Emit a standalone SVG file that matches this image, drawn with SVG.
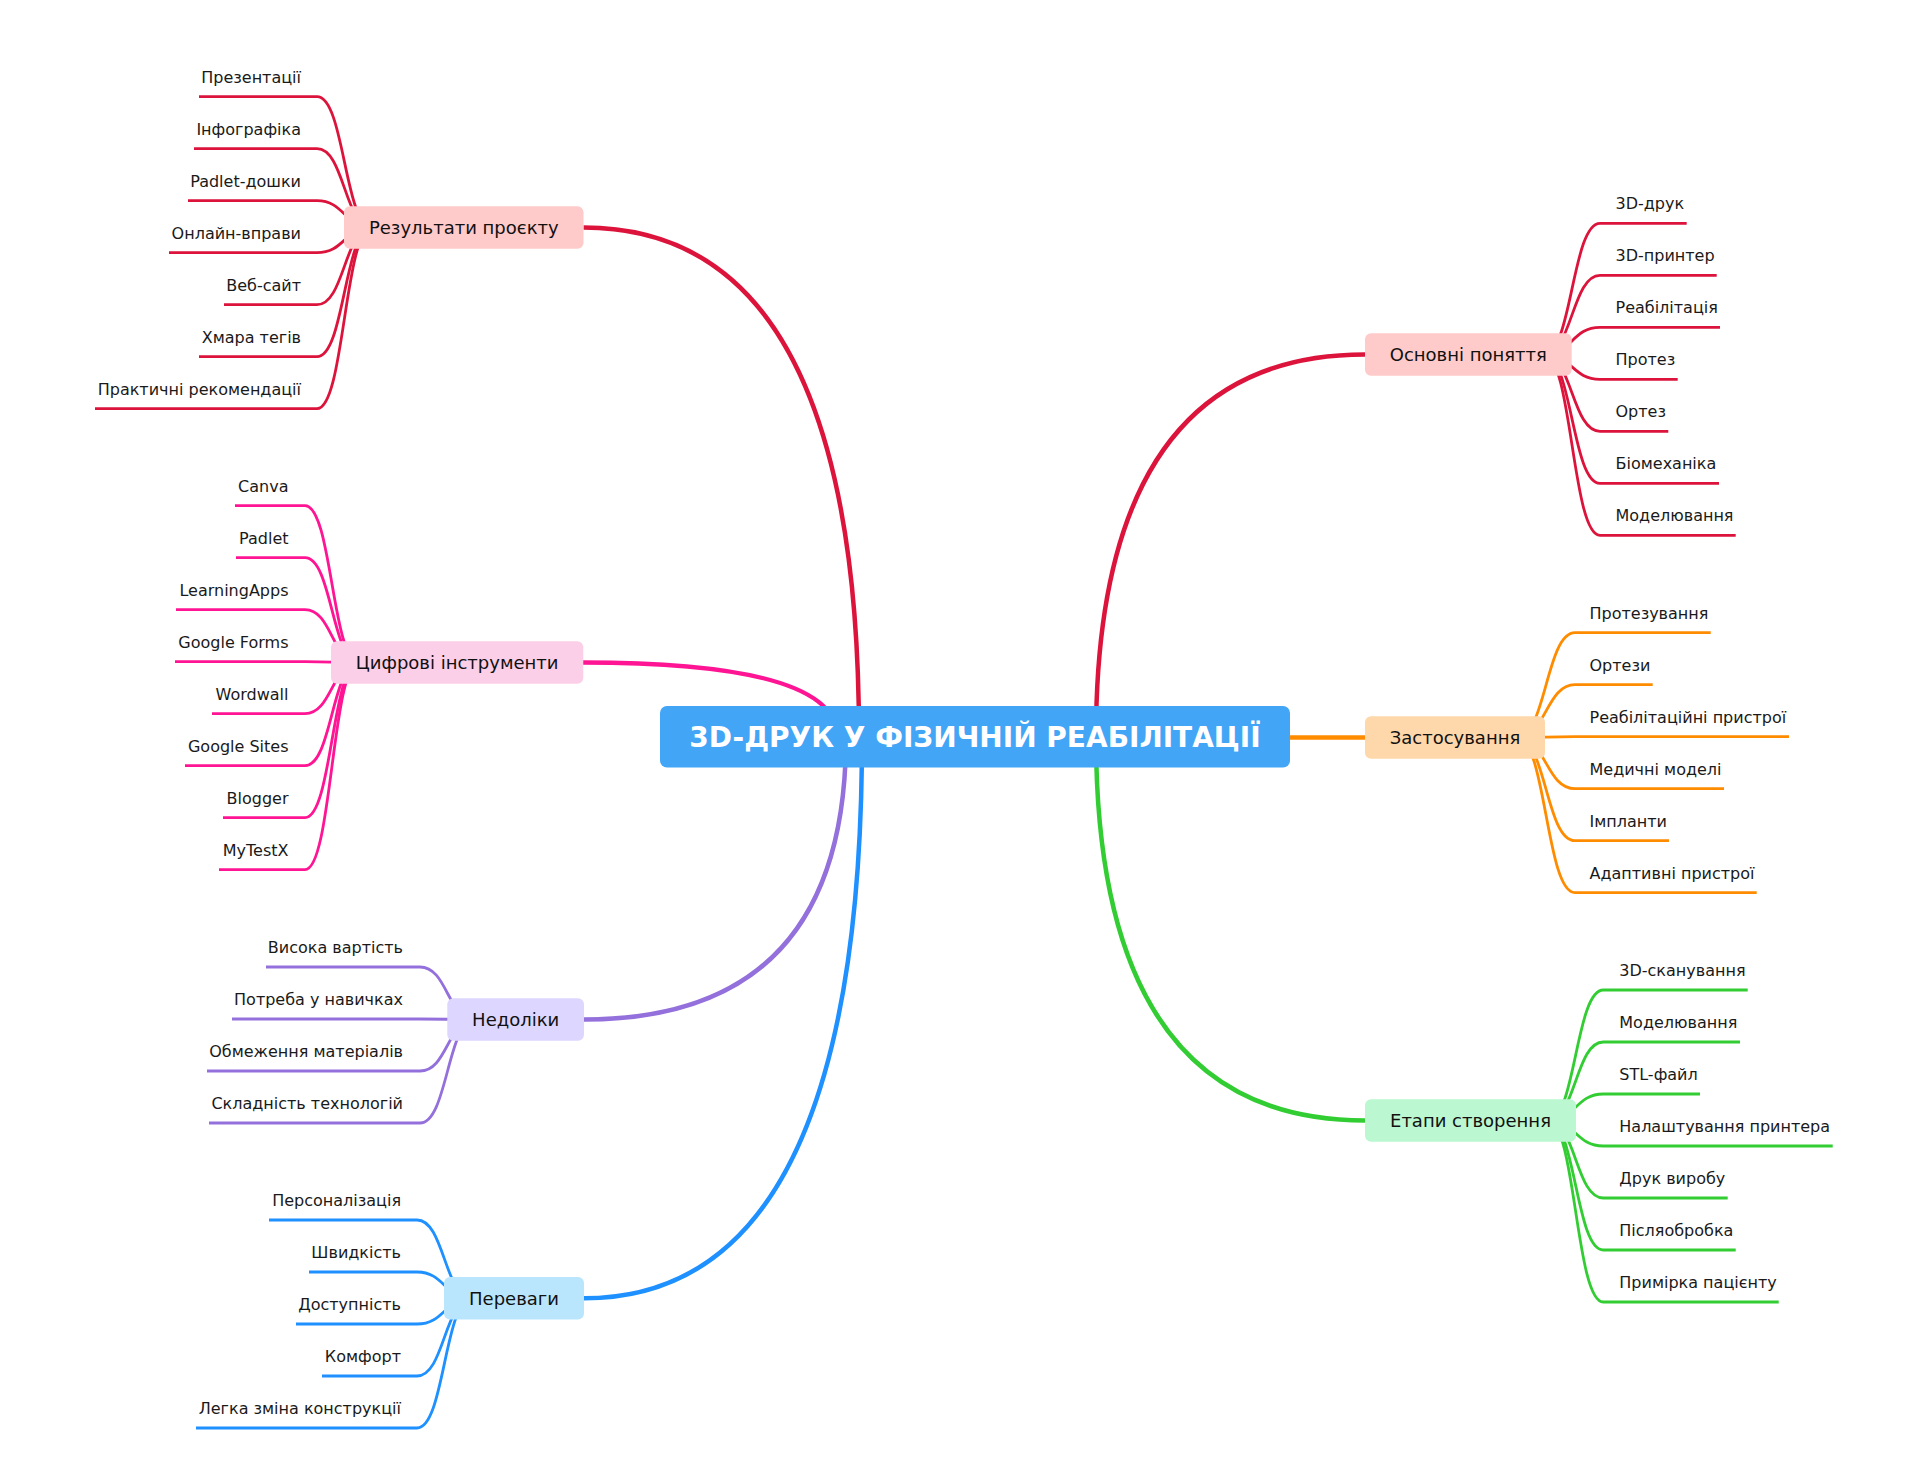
<svg xmlns="http://www.w3.org/2000/svg" width="1928" height="1473" viewBox="0 0 1928 1473">
<style>
.leaf{font-family:"DejaVu Sans",sans-serif;font-size:16px;fill:#1a1a1a}
.lt{text-anchor:end}
.nt{font-family:"DejaVu Sans",sans-serif;font-size:18px;fill:#111;text-anchor:middle}
.title{font-family:"DejaVu Sans",sans-serif;font-size:28px;font-weight:bold;fill:#fff;text-anchor:middle}
.e{fill:none;stroke-width:2.8}
.m{fill:none;stroke-width:4.5}
.red{stroke:#DC143C}.pink{stroke:#FF1493}.purple{stroke:#9370DB}.blue{stroke:#1E90FF}.orange{stroke:#FF8C00}.green{stroke:#32CD32}
</style>
<rect width="1928" height="1473" fill="#fff"/>
<g id="connectors">
<path class="m red" d="M583.5 227.5 Q859 227.5 859 737"/>
<path class="m pink" d="M583 662.5 Q837.5 662.5 837.5 737"/>
<path class="m purple" d="M584 1019.5 Q846 1019.5 846 737"/>
<path class="m blue" d="M584 1298.3 Q862 1298.3 862 737"/>
<path class="m red" d="M1365 354.5 Q1096 354.5 1096 737"/>
<path class="m orange" d="M1290 737.5 H1365"/>
<path class="m green" d="M1365 1120.5 Q1096 1120.5 1096 737"/>
<g>
<path class="e red" d="M199 96.7 H317 C344.5 96.7 344.5 227.5 372 227.5"/>
<path class="e red" d="M194 148.7 H317 C344.5 148.7 344.5 227.5 372 227.5"/>
<path class="e red" d="M188 200.7 H317 C344.5 200.7 344.5 227.5 372 227.5"/>
<path class="e red" d="M169 252.7 H317 C344.5 252.7 344.5 227.5 372 227.5"/>
<path class="e red" d="M224 304.7 H317 C344.5 304.7 344.5 227.5 372 227.5"/>
<path class="e red" d="M199 356.7 H317 C344.5 356.7 344.5 227.5 372 227.5"/>
<path class="e red" d="M95 408.7 H317 C344.5 408.7 344.5 227.5 372 227.5"/>
</g>
<g>
<path class="e pink" d="M235 505.7 H305 C332 505.7 332 662.5 359 662.5"/>
<path class="e pink" d="M236 557.7 H305 C332 557.7 332 662.5 359 662.5"/>
<path class="e pink" d="M176 609.7 H305 C332 609.7 332 662.5 359 662.5"/>
<path class="e pink" d="M175 661.7 H305 C332 661.7 332 662.5 359 662.5"/>
<path class="e pink" d="M212 713.7 H305 C332 713.7 332 662.5 359 662.5"/>
<path class="e pink" d="M185 765.7 H305 C332 765.7 332 662.5 359 662.5"/>
<path class="e pink" d="M223 817.7 H305 C332 817.7 332 662.5 359 662.5"/>
<path class="e pink" d="M219 869.7 H305 C332 869.7 332 662.5 359 662.5"/>
</g>
<g>
<path class="e purple" d="M266 967 H420 C447.5 967 447.5 1019.5 475 1019.5"/>
<path class="e purple" d="M232 1019 H420 C447.5 1019 447.5 1019.5 475 1019.5"/>
<path class="e purple" d="M207 1071 H420 C447.5 1071 447.5 1019.5 475 1019.5"/>
<path class="e purple" d="M209 1123 H420 C447.5 1123 447.5 1019.5 475 1019.5"/>
</g>
<g>
<path class="e blue" d="M269 1220 H417 C444.5 1220 444.5 1298.3 472 1298.3"/>
<path class="e blue" d="M309 1272 H417 C444.5 1272 444.5 1298.3 472 1298.3"/>
<path class="e blue" d="M296 1324 H417 C444.5 1324 444.5 1298.3 472 1298.3"/>
<path class="e blue" d="M322 1376 H417 C444.5 1376 444.5 1298.3 472 1298.3"/>
<path class="e blue" d="M196 1428 H417 C444.5 1428 444.5 1298.3 472 1298.3"/>
</g>
<g>
<path class="e red" d="M1544 354.5 C1572 354.5 1572 223.3 1600 223.3 H1686.7"/>
<path class="e red" d="M1544 354.5 C1572 354.5 1572 275.3 1600 275.3 H1716.7"/>
<path class="e red" d="M1544 354.5 C1572 354.5 1572 327.3 1600 327.3 H1720"/>
<path class="e red" d="M1544 354.5 C1572 354.5 1572 379.3 1600 379.3 H1677.7"/>
<path class="e red" d="M1544 354.5 C1572 354.5 1572 431.3 1600 431.3 H1668.3"/>
<path class="e red" d="M1544 354.5 C1572 354.5 1572 483.3 1600 483.3 H1719"/>
<path class="e red" d="M1544 354.5 C1572 354.5 1572 535.3 1600 535.3 H1735.7"/>
</g>
<g>
<path class="e orange" d="M1517 737.5 C1546 737.5 1546 632.7 1575 632.7 H1710.7"/>
<path class="e orange" d="M1517 737.5 C1546 737.5 1546 684.7 1575 684.7 H1652.7"/>
<path class="e orange" d="M1517 737.5 C1546 737.5 1546 736.7 1575 736.7 H1789"/>
<path class="e orange" d="M1517 737.5 C1546 737.5 1546 788.7 1575 788.7 H1724"/>
<path class="e orange" d="M1517 737.5 C1546 737.5 1546 840.7 1575 840.7 H1669"/>
<path class="e orange" d="M1517 737.5 C1546 737.5 1546 892.7 1575 892.7 H1756.7"/>
</g>
<g>
<path class="e green" d="M1548 1120.5 C1575.6 1120.5 1575.6 990 1603.3 990 H1747.7"/>
<path class="e green" d="M1548 1120.5 C1575.6 1120.5 1575.6 1042 1603.3 1042 H1740"/>
<path class="e green" d="M1548 1120.5 C1575.6 1120.5 1575.6 1094 1603.3 1094 H1700"/>
<path class="e green" d="M1548 1120.5 C1575.6 1120.5 1575.6 1146 1603.3 1146 H1832.7"/>
<path class="e green" d="M1548 1120.5 C1575.6 1120.5 1575.6 1198 1603.3 1198 H1727.7"/>
<path class="e green" d="M1548 1120.5 C1575.6 1120.5 1575.6 1250 1603.3 1250 H1735.7"/>
<path class="e green" d="M1548 1120.5 C1575.6 1120.5 1575.6 1302 1603.3 1302 H1778.7"/>
</g>
</g>
<g id="center">
<rect x="660" y="706" width="630" height="61.5" rx="7" fill="#42A5F5"/>
<text class="title" x="975" y="747">3D-ДРУК У ФІЗИЧНІЙ РЕАБІЛІТАЦІЇ</text>
</g>
<g id="n-results">
<rect x="344" y="206.2" width="239.5" height="42.5" rx="6" fill="#FECACA"/>
<text class="nt" x="463.8" y="234">Результати проєкту</text>
<text class="leaf lt" x="301" y="82.5">Презентації</text>
<text class="leaf lt" x="301" y="134.5">Інфографіка</text>
<text class="leaf lt" x="301" y="186.5">Padlet-дошки</text>
<text class="leaf lt" x="301" y="238.5">Онлайн-вправи</text>
<text class="leaf lt" x="301" y="290.5">Веб-сайт</text>
<text class="leaf lt" x="301" y="342.5">Хмара тегів</text>
<text class="leaf lt" x="301" y="394.5">Практичні рекомендації</text>
</g>
<g id="n-tools">
<rect x="331" y="641.2" width="252.3" height="42.5" rx="6" fill="#FBCFE8"/>
<text class="nt" x="457.2" y="669">Цифрові інструменти</text>
<text class="leaf lt" x="288.5" y="491.5">Canva</text>
<text class="leaf lt" x="288.5" y="543.5">Padlet</text>
<text class="leaf lt" x="288.5" y="595.5">LearningApps</text>
<text class="leaf lt" x="288.5" y="647.5">Google Forms</text>
<text class="leaf lt" x="288.5" y="699.5">Wordwall</text>
<text class="leaf lt" x="288.5" y="751.5">Google Sites</text>
<text class="leaf lt" x="288.5" y="803.5">Blogger</text>
<text class="leaf lt" x="288.5" y="855.5">MyTestX</text>
</g>
<g id="n-cons">
<rect x="447.3" y="998.2" width="136.7" height="42.5" rx="6" fill="#DDD6FE"/>
<text class="nt" x="515.7" y="1026">Недоліки</text>
<text class="leaf lt" x="403" y="952.8">Висока вартість</text>
<text class="leaf lt" x="403" y="1004.8">Потреба у навичках</text>
<text class="leaf lt" x="403" y="1056.8">Обмеження матеріалів</text>
<text class="leaf lt" x="403" y="1108.8">Складність технологій</text>
</g>
<g id="n-pros">
<rect x="444" y="1277" width="140" height="42.5" rx="6" fill="#BAE6FD"/>
<text class="nt" x="514" y="1305">Переваги</text>
<text class="leaf lt" x="401" y="1205.8">Персоналізація</text>
<text class="leaf lt" x="401" y="1257.8">Швидкість</text>
<text class="leaf lt" x="401" y="1309.8">Доступність</text>
<text class="leaf lt" x="401" y="1361.8">Комфорт</text>
<text class="leaf lt" x="401" y="1413.8">Легка зміна конструкції</text>
</g>
<g id="n-concepts">
<rect x="1365" y="333.2" width="206.7" height="42.5" rx="6" fill="#FECACA"/>
<text class="nt" x="1468.3" y="361">Основні поняття</text>
<text class="leaf" x="1615.5" y="209.1">3D-друк</text>
<text class="leaf" x="1615.5" y="261.1">3D-принтер</text>
<text class="leaf" x="1615.5" y="313.1">Реабілітація</text>
<text class="leaf" x="1615.5" y="365.1">Протез</text>
<text class="leaf" x="1615.5" y="417.1">Ортез</text>
<text class="leaf" x="1615.5" y="469.1">Біомеханіка</text>
<text class="leaf" x="1615.5" y="521.1">Моделювання</text>
</g>
<g id="n-apps">
<rect x="1365" y="716.2" width="180" height="42.5" rx="6" fill="#FED7AA"/>
<text class="nt" x="1455" y="744">Застосування</text>
<text class="leaf" x="1589.5" y="618.5">Протезування</text>
<text class="leaf" x="1589.5" y="670.5">Ортези</text>
<text class="leaf" x="1589.5" y="722.5">Реабілітаційні пристрої</text>
<text class="leaf" x="1589.5" y="774.5">Медичні моделі</text>
<text class="leaf" x="1589.5" y="826.5">Імпланти</text>
<text class="leaf" x="1589.5" y="878.5">Адаптивні пристрої</text>
</g>
<g id="n-stages">
<rect x="1365" y="1099.2" width="211" height="42.5" rx="6" fill="#BBF7D0"/>
<text class="nt" x="1470.5" y="1127">Етапи створення</text>
<text class="leaf" x="1619.3" y="975.8">3D-сканування</text>
<text class="leaf" x="1619.3" y="1027.8">Моделювання</text>
<text class="leaf" x="1619.3" y="1079.8">STL-файл</text>
<text class="leaf" x="1619.3" y="1131.8">Налаштування принтера</text>
<text class="leaf" x="1619.3" y="1183.8">Друк виробу</text>
<text class="leaf" x="1619.3" y="1235.8">Післяобробка</text>
<text class="leaf" x="1619.3" y="1287.8">Примірка пацієнту</text>
</g>
</svg>
